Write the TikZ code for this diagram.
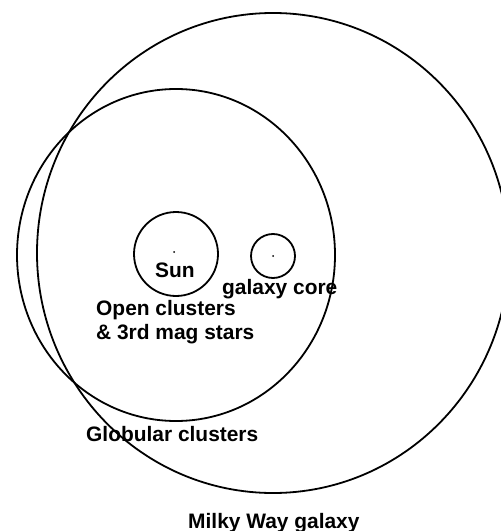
\documentclass[tikz,border=0pt]{standalone}
\usepackage{fontspec}
\setmainfont{Liberation Sans}
\usepackage{tikz}
\usetikzlibrary{positioning}

\begin{document}
\begin{tikzpicture}[x=1bp, y=-1bp,
		ring/.style={line width=1.8bp, black},
		lbl/.style={font=\fontsize{21}{24}\selectfont\bfseries, inner sep=0pt}]
				\useasboundingbox (0,0) rectangle (501,531);
				\clip (0,0) rectangle (501,531);
				
				% Voie lactee
				\draw[ring] (273,253) ellipse [x radius=236, y radius=240];
				
				% Amas globulaires
				\draw[ring] (176,255) ellipse [x radius=159, y radius=166];
				
				% Soleil et noyau
				\draw[ring] (176,254) circle [radius=42];
				\draw[ring] (273,256) circle [radius=22];
				\fill (174,252) circle [radius=1];
				\fill (273,256) circle [radius=1];
				
				\node[lbl, anchor=base] (sun) at (175,277) {Sun};
				\node[lbl, anchor=base west] (core) at (222,294) {galaxy core};
				\node[lbl, anchor=base west] (open) at (96,315) {Open clusters};
				\node[lbl, anchor=base west] (mag) at (96,339) {\& 3rd mag stars};
				\node[lbl, anchor=base west] (glob) at (86,441) {Globular clusters};
				\node[lbl, anchor=base west] (milky) at (188,528) {Milky Way galaxy};
			\end{tikzpicture}
\end{document}
